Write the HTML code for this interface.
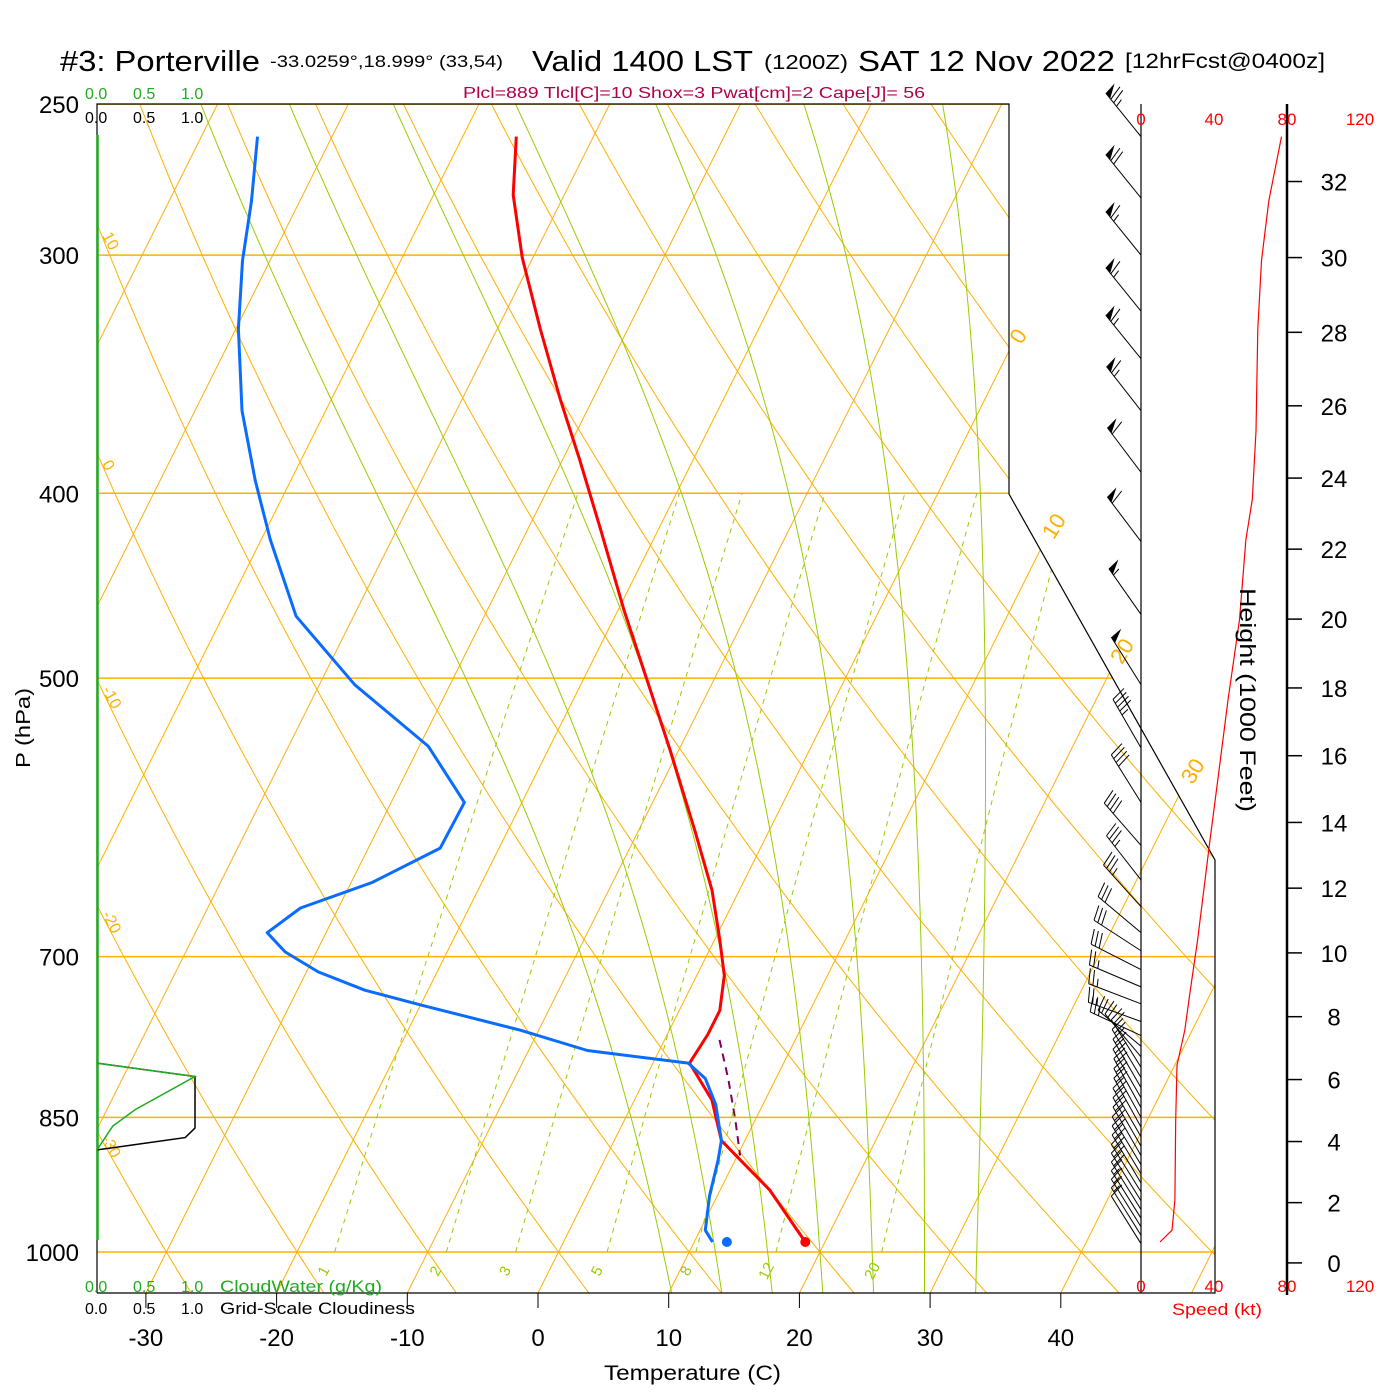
<!DOCTYPE html>
<html><head><meta charset="utf-8"><title>Skew-T Porterville</title>
<style>
html,body{margin:0;padding:0;background:#fff;}
svg{display:block;font-family:"Liberation Sans",Arial,sans-serif;}
</style></head>
<body>
<svg id="chart" width="1400" height="1400" viewBox="0 0 1400 1400" xmlns="http://www.w3.org/2000/svg">
<defs><clipPath id="plotclip"><polygon points="97,104 1009,104 1009,494 1215,860 1215,1293 97,1293"/></clipPath></defs>
<rect x="0" y="0" width="1400" height="1400" fill="#fff"/>
<g>
<text x="60" y="71" font-size="29" textLength="200" lengthAdjust="spacingAndGlyphs">#3: Porterville</text>
<text x="270" y="67" font-size="17" textLength="233" lengthAdjust="spacingAndGlyphs">-33.0259°,18.999° (33,54)</text>
<text x="532" y="71" font-size="29" textLength="221" lengthAdjust="spacingAndGlyphs">Valid 1400 LST</text>
<text x="764" y="69" font-size="20" textLength="84" lengthAdjust="spacingAndGlyphs">(1200Z)</text>
<text x="858" y="71" font-size="29" textLength="257" lengthAdjust="spacingAndGlyphs">SAT 12 Nov 2022</text>
<text x="1125" y="68" font-size="21" textLength="200" lengthAdjust="spacingAndGlyphs">[12hrFcst@0400z]</text>
<text x="463" y="98" font-size="16" fill="#b0004a" textLength="462" lengthAdjust="spacingAndGlyphs">Plcl=889 Tlcl[C]=10 Shox=3 Pwat[cm]=2 Cape[J]= 56</text>
</g>
<g id="bg" clip-path="url(#plotclip)"></g>
<g id="fg"></g>
<g>
<text x="85" y="99" font-size="16" fill="#22aa22">0.0</text>
<text x="133" y="99" font-size="16" fill="#22aa22">0.5</text>
<text x="181" y="99" font-size="16" fill="#22aa22">1.0</text>
<text x="85" y="123" font-size="16" fill="#000">0.0</text>
<text x="133" y="123" font-size="16" fill="#000">0.5</text>
<text x="181" y="123" font-size="16" fill="#000">1.0</text>
<text x="85" y="1292" font-size="16" fill="#22aa22">0.0</text>
<text x="133" y="1292" font-size="16" fill="#22aa22">0.5</text>
<text x="181" y="1292" font-size="16" fill="#22aa22">1.0</text>
<text x="220" y="1292" font-size="17" fill="#22aa22" textLength="162" lengthAdjust="spacingAndGlyphs">CloudWater (g/Kg)</text>
<text x="85" y="1314" font-size="16" fill="#000">0.0</text>
<text x="133" y="1314" font-size="16" fill="#000">0.5</text>
<text x="181" y="1314" font-size="16" fill="#000">1.0</text>
<text x="220" y="1314" font-size="17" fill="#000" textLength="195" lengthAdjust="spacingAndGlyphs">Grid-Scale Cloudiness</text>
</g>
<text x="604" y="1380" font-size="21" textLength="177" lengthAdjust="spacingAndGlyphs">Temperature (C)</text>
<text x="1172" y="1315" font-size="17" fill="#ff0000" textLength="90" lengthAdjust="spacingAndGlyphs">Speed (kt)</text>
<text transform="translate(30,768) rotate(-90)" font-size="20" textLength="80" lengthAdjust="spacingAndGlyphs">P (hPa)</text>
<text transform="translate(1240,588) rotate(90)" font-size="22" textLength="224" lengthAdjust="spacingAndGlyphs">Height (1000 Feet)</text>
</svg>
<script>
// ---- data ----
const pressureLevels=[250,300,400,500,700,850,1000];
const tempTicks=[-30,-20,-10,0,10,20,30,40];
const heightTicksKft=[0,2,4,6,8,10,12,14,16,18,20,22,24,26,28,30,32];
const speedTicks=[0,40,80,120];
const isothermTemps=[-110,-100,-90,-80,-70,-60,-50,-40,-30,-20,-10,0,10,20,30,40,50];
const dryAdiabatThetas=[-40,-30,-20,-10,0,10,20,30,40,50,60,70,80,90,100,110,120,130,140,150];
const dryAdiabatLabels=[10,0,-10,-20,-30];
const moistAdiabatStarts=[8,12,16,20,24,28,32];
const mixingRatios=[1,2,3,5,8,12,20];
const tempP=[260,279,301,328,357,384,418,461,507,545,601,646,686,716,747,769,796,832,874,895,928,988];
const tempT=[-45.9,-43.9,-40.8,-36.7,-32.5,-28.7,-24.4,-19.5,-14.5,-10.7,-5.7,-2.1,0.4,2.1,3.1,3.1,2.8,5.9,8.2,10.4,13.8,18.5];
const dewP=[260,281,302,328,362,394,423,464,504,543,581,614,640,660,680,696,713,729,742,765,784,796,811,837,874,895,934,974,988];
const dewT=[-65.7,-63.7,-62.1,-59.8,-56.4,-52.7,-49.3,-44.4,-37.3,-29.3,-24.4,-24.5,-28.4,-32.9,-34.5,-32.4,-29.1,-24.8,-20.0,-11.4,-5.5,2.7,4.6,6.4,8.2,8.7,9.4,10.4,11.4];
const parcelP=[774,812,853,890];
const parcelT=[4.2,6.4,8.5,10.2];
const surfaceT=18.5, surfaceTd=12.5, surfaceP=988;
const cloudP=[796,809,861,871,884];
const cloudFrac=[0,1.0,1.0,0.9,0];
const cloudWaterP=[796,809,842,859,884];
const cloudWater=[0,1.0,0.39,0.16,0];
const barbP=[260,280,300,321,340,362,390,424,463,504,544,581,612,638,659,680,695,711,726,741,757,770,780,790,800,810,820,830,840,850,860,870,880,890,900,910,920,930,940,950,960,970,980,990];
const barbKt=[76,70,67,65,64,63,62,60,55,48,44,41,38,35,33,31,30,28,27,26,25,24,22,20,19,19,19,19,19,19,19,19,19,19,19,18,18,18,18,18,17,17,15,11];
const barbDir=[321,321,321,321,321,322,323,323,325,328,330,328,319,322,318,310,303,297,293,291,290,295,310,320,328,329,330,330,331,331,331,330,330,330,329,329,329,328,328,328,328,328,328,328];
const speedP=[260,281,302,328,371,403,423,466,513,566,608,686,729,765,798,853,939,974,988];
const speedKt=[77,70,66,64,63,61,57.5,54,47.7,42,37.8,31,27,24,19.7,19,18.6,17,10.4];

// ---- axes ----
function yP(p){return 1252-828*Math.log(1000/p);}
function xTy(T,y){return 538+13.07*T+0.5*(1293-y);}
function xTP(T,p){return xTy(T,yP(p));}
function xSpd(k){return 1141+k*73/40;}
function yHeight(kft){const p=1013.25*Math.pow(1-6.8756e-6*kft*1000,5.2559);return yP(p);}

const NS='http://www.w3.org/2000/svg';
const bg=document.getElementById('bg');
const fg=document.getElementById('fg');
function mk(tag,attrs,parent){const e=document.createElementNS(NS,tag);for(const k in attrs)e.setAttribute(k,attrs[k]);parent.appendChild(e);return e;}
function ptsStr(a){return a.map(q=>q[0].toFixed(1)+','+q[1].toFixed(1)).join(' ');}
const ORANGE='#ffb000', GREEN='#99cc00';

pressureLevels.forEach(p=>{
  const y=yP(p);
  const l=mk('line',{x1:97,y1:y,x2:1215,y2:y,stroke:ORANGE,'stroke-width':1.5},bg);
  
  
});
isothermTemps.forEach(T=>{
  const l=mk('line',{x1:xTy(T,1293),y1:1293,x2:xTy(T,104),y2:104,stroke:ORANGE,'stroke-width':1},bg);
  
  
});
function dryT(th,p){return (th+273.15)*Math.pow(p/1000,0.286)-273.15;}
dryAdiabatThetas.forEach(th=>{
  const a=[];
  for(let p=1060;p>=240;p-=10){a.push([xTP(dryT(th,p),p),yP(p)]);}
  const l=mk('polyline',{points:ptsStr(a),fill:'none',stroke:ORANGE,'stroke-width':1},bg);
  
  
});
function esat(Tk){const c=Tk-273.15;return 6.112*Math.exp(17.67*c/(c+243.5));}
function dTdp(T,p){const es=esat(T);const rs=0.622*es/(p-es);return (287*T+2.5e6*rs)/(p*(1004+2.5e6*2.5e6*rs*0.622/(287*T*T)));}
moistAdiabatStarts.forEach(t0=>{
  const a=[];let T=t0+273.15;
  const down=[];let Td=T;
  for(let p=1000;p<=1060;p+=5){down.push([xTP(Td-273.15,p),yP(p)]);Td+=dTdp(Td,p)*5;}
  for(let p=1000;p>=240;p-=5){a.push([xTP(T-273.15,p),yP(p)]);T-=dTdp(T,p)*5;}
  const all=down.reverse().concat(a);
  const l=mk('polyline',{points:ptsStr(all),fill:'none',stroke:GREEN,'stroke-width':1},bg);
  
  
});
function tdFromW(w,p){const e=w*p/(622+w);const L=Math.log(e/6.112);return 243.5*L/(17.67-L);}
mixingRatios.forEach(w=>{
  const a=[];
  for(let p=1000;p>=400;p-=10){a.push([xTP(tdFromW(w,p),p),yP(p)]);}
  const l=mk('polyline',{points:ptsStr(a),fill:'none',stroke:GREEN,'stroke-width':1,'stroke-dasharray':'5,5'},bg);
  
  
  const lp=1026;
  const lx=xTP(tdFromW(w,lp),lp),ly=yP(lp);
  const t=mk('text',{x:lx,y:ly,'font-size':15,fill:GREEN,'text-anchor':'middle',transform:'rotate(-62 '+lx+' '+ly+')'},fg);
  t.textContent=String(w);
  
  
});
dryAdiabatLabels.forEach(th=>{
  let best=null;
  for(let p=240;p<=1060;p+=1){const x=xTP(dryT(th,p),p);if(x>=101){best=[x,yP(p)];break;}}
  if(!best)return;
  const t=mk('text',{x:best[0],y:best[1],'font-size':16,fill:ORANGE,transform:'rotate(62 '+best[0]+' '+best[1]+')'},fg);
  t.textContent=String(th);
  
  
});
[[0,340],[10,530],[20,655],[30,775]].forEach(q=>{
  const x=xTy(q[0],q[1])+10,y=q[1];
  const t=mk('text',{x:x,y:y,'font-size':22,fill:ORANGE,'text-anchor':'middle',transform:'rotate(-58 '+x+' '+y+')'},fg);
  t.textContent=String(q[0]);
  
  
});

const border=mk('polyline',{points:'97,1293 97,104 1009,104 1009,494 1215,860 1215,1293 97,1293',fill:'none',stroke:'#000','stroke-width':1.2},fg);


const gl=mk('line',{x1:97.5,y1:135,x2:97.5,y2:1240,stroke:'#22aa22','stroke-width':2.5},fg);



function xFrac(f){return 97+f*98;}
const cp=mk('polyline',{points:ptsStr(cloudP.map((p,i)=>[xFrac(cloudFrac[i]),yP(p)])),fill:'none',stroke:'#000','stroke-width':1.5},fg);


const cw=mk('polyline',{points:ptsStr(cloudWaterP.map((p,i)=>[xFrac(cloudWater[i]),yP(p)])),fill:'none',stroke:'#22aa22','stroke-width':1.5},fg);



const tl=mk('polyline',{points:ptsStr(tempP.map((p,i)=>[xTP(tempT[i],p),yP(p)])),fill:'none',stroke:'#ff0000','stroke-width':3,'stroke-linejoin':'round'},fg);


const dl=mk('polyline',{points:ptsStr(dewP.map((p,i)=>[xTP(dewT[i],p),yP(p)])),fill:'none',stroke:'#0a6cff','stroke-width':3,'stroke-linejoin':'round'},fg);


const pl=mk('polyline',{points:ptsStr(parcelP.map((p,i)=>[xTP(parcelT[i],p),yP(p)])),fill:'none',stroke:'#800060','stroke-width':2,'stroke-dasharray':'8,6'},fg);


const sd1=mk('circle',{cx:xTP(surfaceT,surfaceP),cy:yP(surfaceP),r:5,fill:'#ff0000'},fg);


const sd2=mk('circle',{cx:xTP(surfaceTd,surfaceP),cy:yP(surfaceP),r:5,fill:'#0a6cff'},fg);



const sax=mk('line',{x1:1141,y1:104,x2:1141,y2:1293,stroke:'#000','stroke-width':1.2},fg);


const hax=mk('line',{x1:1287,y1:104,x2:1287,y2:1295,stroke:'#000','stroke-width':2.5},fg);


heightTicksKft.forEach(h=>{
  const y=yHeight(h);
  const tk=mk('line',{x1:1287,y1:y,x2:1302,y2:y,stroke:'#000','stroke-width':1.5},fg);
  
  
  const t=mk('text',{x:1334,y:y+9,'font-size':24,'text-anchor':'middle'},fg);
  t.textContent=String(h);
  
  
});
speedTicks.forEach(s=>{
  [125,1292].forEach((y,j)=>{
    const t=mk('text',{x:xSpd(s),y:y,'font-size':17,fill:'#ff0000','text-anchor':'middle'},fg);
    t.textContent=String(s);
    
    
  });
});
const sl=mk('polyline',{points:ptsStr(speedP.map((p,i)=>[xSpd(speedKt[i]),yP(p)])),fill:'none',stroke:'#ff0000','stroke-width':1.2},fg);



barbP.forEach((p,i)=>{
  const g=mk('g',{},fg);
  
  
  const bx=1141,by=yP(p),L=56,d=barbDir[i]*Math.PI/180;
  const ux=Math.sin(d),uy=-Math.cos(d);
  const fx=-uy,fy=ux;
  const tx=bx+L*ux,ty=by+L*uy;
  mk('line',{x1:bx,y1:by,x2:tx,y2:ty,stroke:'#000','stroke-width':1},g);
  let s=Math.round(barbKt[i]/5)*5;let off=0;
  while(s>=50){
    const ax=tx-off*ux,ay=ty-off*uy;
    mk('polygon',{points:[[ax,ay],[ax+13*fx+2*ux,ay+13*fy+2*uy],[ax-7*ux,ay-7*uy]].map(q=>q[0].toFixed(1)+','+q[1].toFixed(1)).join(' '),fill:'#000'},g);
    off+=8;s-=50;
  }
  while(s>=10){
    const ax=tx-off*ux,ay=ty-off*uy;
    mk('line',{x1:ax,y1:ay,x2:ax+15*fx+4*ux,y2:ay+15*fy+4*uy,stroke:'#000','stroke-width':1},g);
    off+=4.5;s-=10;
  }
  if(s>=5){
    if(off===0)off=4.5;
    const ax=tx-off*ux,ay=ty-off*uy;
    mk('line',{x1:ax,y1:ay,x2:ax+8*fx+2*ux,y2:ay+8*fy+2*uy,stroke:'#000','stroke-width':1},g);
  }
});

pressureLevels.forEach(p=>{
  const t=mk('text',{x:79,y:yP(p)+9,'font-size':24,'text-anchor':'end'},fg);
  t.textContent=String(p);
  
  
});
tempTicks.forEach(T=>{
  const x=538+13.07*T;
  const tk=mk('line',{x1:x,y1:1293,x2:x,y2:1308,stroke:'#000','stroke-width':1},fg);
  
  
  const t=mk('text',{x:x,y:1346,'font-size':24,'text-anchor':'middle'},fg);
  t.textContent=String(T);
  
  
});
</script>
</body></html>
